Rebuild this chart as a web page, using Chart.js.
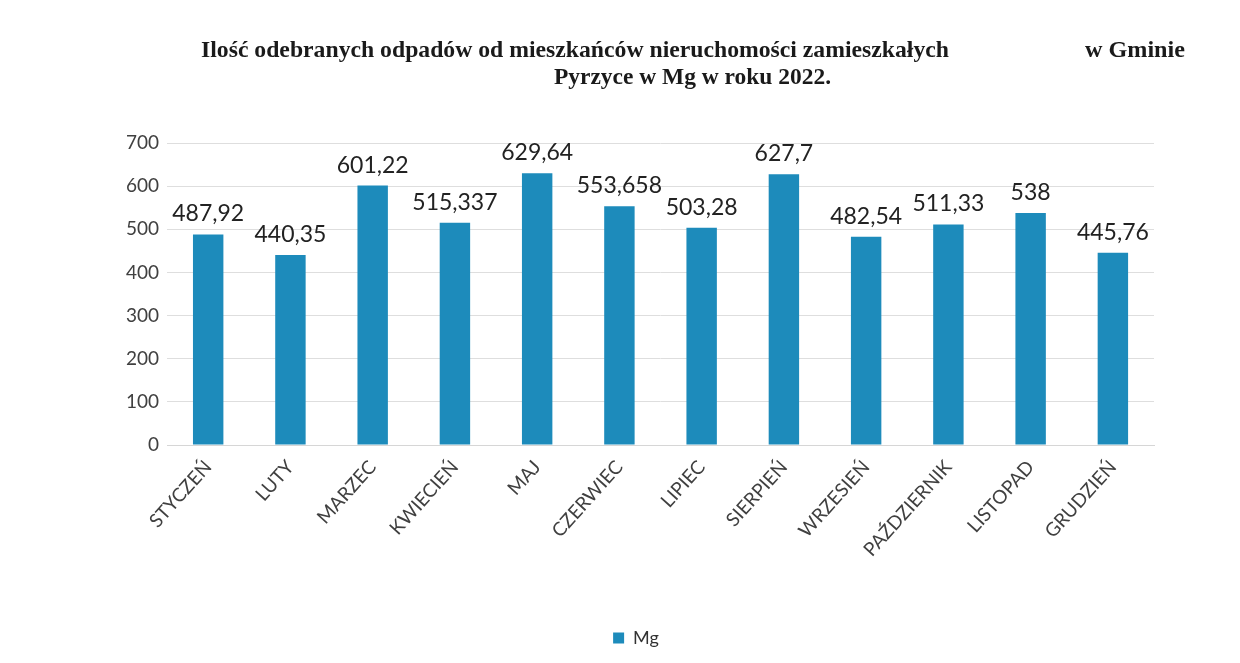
<!DOCTYPE html>
<html>
<head>
<meta charset="utf-8">
<script src="https://cdn.jsdelivr.net/npm/chart.js@4"></script>
<style>
  html, body { margin: 0; padding: 0; background: #fff; }
  #wrap { width: 1240px; height: 663px; }
</style>
</head>
<body>
<div id="wrap"><canvas id="myChart" width="1240" height="663"></canvas></div>
<script>
var miesiace = ['STYCZEŃ', 'LUTY', 'MARZEC', 'KWIECIEŃ', 'MAJ', 'CZERWIEC', 'LIPIEC',
                'SIERPIEŃ', 'WRZESIEŃ', 'PAŹDZIERNIK', 'LISTOPAD', 'GRUDZIEŃ'];
var wartosci = [487.92, 440.35, 601.22, 515.337, 629.64, 553.658, 503.28,
                627.7, 482.54, 511.33, 538, 445.76];
var etykiety = ['487,92', '440,35', '601,22', '515,337', '629,64', '553,658', '503,28',
                '627,7', '482,54', '511,33', '538', '445,76'];
var tytul1 = 'Ilość odebranych odpadów od mieszkańców nieruchomości zamieszkałych';
var tytul2 = 'w Gminie';
var tytul3 = 'Pyrzyce w Mg w roku 2022.';

// draw a string fitted to a given width (the scanned title is a narrow bold serif)
function rozciagnij(ctx, txt, x, y, w) {
    var m = ctx.measureText(txt).width;
    ctx.save();
    ctx.translate(x, y);
    ctx.scale(w / m, 1);
    ctx.fillText(txt, 0, 0);
    ctx.restore();
}

// title drawn by hand, the second part of line 1 sits far to the right
var titlePlugin = {
    id: 'tytul',
    afterDraw: function(chart) {
        var ctx = chart.ctx;
        ctx.save();
        ctx.fillStyle = '#1a1a1a';
        ctx.font = 'bold 24px "Liberation Serif", serif';
        ctx.textBaseline = 'alphabetic';
        ctx.textAlign = 'left';
        rozciagnij(ctx, tytul1, 201, 57, 748);
        rozciagnij(ctx, tytul2, 1085, 57, 100);
        rozciagnij(ctx, tytul3, 554, 84, 277);
        ctx.restore();
    }
};

// value labels above the bars
var valuePlugin = {
    id: 'wartosci',
    afterDatasetsDraw: function(chart) {
        var ctx = chart.ctx;
        var meta = chart.getDatasetMeta(0);
        ctx.save();
        ctx.fillStyle = '#222';
        ctx.font = '23px Lato, sans-serif';
        ctx.textAlign = 'center';
        ctx.textBaseline = 'bottom';
        meta.data.forEach(function(bar, i) {
            ctx.fillText(etykiety[i], bar.x, bar.y - 9);
        });
        ctx.restore();
    }
};

var ctx = document.getElementById('myChart');
var myChart = new Chart(ctx, {
    type: 'bar',
    plugins: [titlePlugin, valuePlugin],
    data: {
        labels: miesiace,
        datasets: [{
            label: 'Mg',
            data: wartosci,
            backgroundColor: '#1D8BBB',
            categoryPercentage: 1,
            barPercentage: 0.37
        }]
    },
    options: {
        responsive: false,
        animation: false,
        layout: {
            padding: { top: 143, left: 118, right: 86, bottom: 6 }
        },
        plugins: {
            legend: {
                position: 'bottom',
                labels: {
                    boxWidth: 11,
                    boxHeight: 11,
                    color: '#333',
                    font: { family: 'Lato', size: 18 },
                    padding: 14
                }
            },
            tooltip: { enabled: false },
            title: { display: false }
        },
        scales: {
            y: {
                min: 0,
                max: 700,
                ticks: {
                    stepSize: 100,
                    color: '#404040',
                    padding: 8,
                    font: { family: 'Lato', size: 19 }
                },
                grid: { color: '#dedede', drawTicks: false },
                border: { display: false }
            },
            x: {
                afterFit: function(scale) { scale.height = 170; },
                ticks: {
                    color: '#404040',
                    minRotation: 48,
                    maxRotation: 48,
                    font: { family: 'Lato', size: 19 }
                },
                grid: { display: false },
                border: { color: '#d6d6d6' }
            }
        }
    }
});
</script>
</body>
</html>
